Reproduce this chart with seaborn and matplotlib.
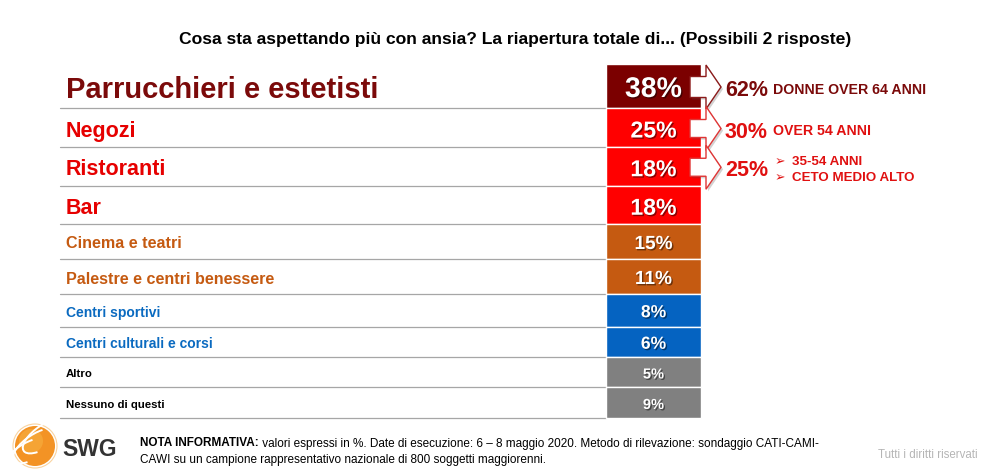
import numpy as np
import matplotlib
matplotlib.use("Agg")
import matplotlib.pyplot as plt
import matplotlib.patheffects as pe
from matplotlib.patches import Polygon, Circle, Arc
import seaborn as sns

# ---------------------------------------------------------
# DATA
# ---------------------------------------------------------
categories = [
    "Parrucchieri e estetisti", "Negozi", "Ristoranti", "Bar",
    "Cinema e teatri", "Palestre e centri benessere",
    "Centri sportivi", "Centri culturali e corsi",
    "Altro", "Nessuno di questi",
]
values = [38, 25, 18, 18, 15, 11, 8, 6, 5, 9]
tiers = ["top", "high", "high", "high", "mid", "mid", "low", "low", "other", "other"]

highlight_values = ["62%", "30%", "25%"]
highlight_labels = [["DONNE OVER 64 ANNI"], ["OVER 54 ANNI"], ["35-54 ANNI", "CETO MEDIO ALTO"]]

title = "Cosa sta aspettando più con ansia? La riapertura totale di... (Possibili 2 risposte)"
note_bold = "NOTA INFORMATIVA:"
note_line1 = " valori espressi in %. Date di esecuzione: 6 – 8 maggio 2020. Metodo di rilevazione: sondaggio CATI-CAMI-"
note_line2 = "CAWI su un campione rappresentativo nazionale di 800 soggetti maggiorenni."

# ---------------------------------------------------------
# STYLE / LAYOUT
# ---------------------------------------------------------
cell_colors = {"top": "#7B0000", "high": "#FF0000", "mid": "#C55A11",
               "low": "#0563C1", "other": "#808080"}
label_colors = {"top": "#7B0A0A", "high": "#E60000", "mid": "#C55A11",
                "low": "#0A6AC0", "other": "#000000"}
label_sizes = {"top": 21, "high": 15.5, "mid": 11.6, "low": 10, "other": 8.2}
value_sizes = {"top": 20.5, "high": 16.6, "mid": 13.7, "low": 12.6, "other": 10.5}

row_heights = np.array([44, 39, 38.5, 38.5, 35, 35, 32.5, 30.5, 30, 31])
top_y = 64
row_edges = top_y + np.concatenate([[0], np.cumsum(row_heights)])
row_centers = (row_edges[:-1] + row_edges[1:]) / 2
cell_left, cell_right = 606, 701
label_x = 66

sns.set_theme(style="white")
plt.rcParams["font.family"] = ["Liberation Sans", "DejaVu Sans"]

fig = plt.figure(figsize=(9.81, 4.75), dpi=100)
ax = fig.add_axes([0, 0, 1, 1])
ax.set_xlim(0, 981)
ax.set_ylim(475, 0)
ax.axis("off")

# title
ax.text(515, 38, title, ha="center", va="center_baseline", fontsize=12.6,
        fontweight="bold", color="#000000")

# cells
ax.barh(row_centers, cell_right - cell_left, left=cell_left, height=row_heights,
        color=[cell_colors[t] for t in tiers], edgecolor="white", linewidth=1, zorder=2)

# separator lines
for yb in row_edges[1:]:
    ax.plot([60, cell_left], [yb, yb], color="#A6A6A6", lw=0.9, zorder=1)

shadow = [pe.withSimplePatchShadow(offset=(1, -1), shadow_rgbFace="black", alpha=0.45)]
for cat, val, tier, cy in zip(categories, values, tiers, row_centers):
    ax.text(label_x, cy + 1, cat, ha="left", va="center_baseline", fontsize=label_sizes[tier],
            fontweight="bold", color=label_colors[tier])
    ax.text((cell_left + cell_right) / 2, cy + 1, f"{val}%", ha="center", va="center_baseline",
            fontsize=value_sizes[tier], fontweight="bold", color="white",
            path_effects=shadow, zorder=4)

# arrows with highlights
arrow_edges = ["#8B1A1A", "#E03535", "#E03535"]
text_colors = ["#7B0A0A", "#E01010", "#E01010"]
body_half = [10.5, 9, 9]
for i, (hv, hl) in enumerate(zip(highlight_values, highlight_labels)):
    cy = row_centers[i] + 1
    bh, hh = body_half[i], 22
    pts = [(690, cy - bh), (706, cy - bh), (706, cy - hh), (721, cy),
           (706, cy + hh), (706, cy + bh), (690, cy + bh)]
    ax.add_patch(Polygon(pts, closed=True, facecolor="white", edgecolor=arrow_edges[i],
                         lw=1.0, zorder=3,
                         path_effects=[pe.SimplePatchShadow(offset=(1.5, -1.5), alpha=0.25), pe.Normal()]))
    ax.text(725, cy + 1, hv, ha="left", va="center_baseline", fontsize=15.5, fontweight="bold",
            color=text_colors[i])
    if len(hl) == 1:
        ax.text(773, cy + 1, hl[0], ha="left", va="center_baseline", fontsize=10.2,
                fontweight="bold", color=text_colors[i])
    else:
        for j, line in enumerate(hl):
            yy = cy - 7 + j * 16
            ax.text(775, yy, "➢", ha="left", va="center_baseline", fontsize=9,
                    color=text_colors[i], family=["DejaVu Sans"])
            ax.text(792, yy, line, ha="left", va="center_baseline", fontsize=9.6,
                    fontweight="bold", color=text_colors[i])

# footer: logo
ax.add_patch(Circle((35, 446), 20, facecolor="#F39325", edgecolor="none", zorder=2))
ax.add_patch(Circle((31, 441), 12, facecolor="#F7B040", edgecolor="none", zorder=2, alpha=0.6))
for k, off in enumerate([-10, 0, 10]):
    ax.add_patch(Arc((35 + off, 446 - off), 52, 22, angle=-35, theta1=150, theta2=330,
                     color="white", lw=1.4, zorder=3))
ax.add_patch(Circle((35, 446), 22, facecolor="none", edgecolor="#F9D3A0", lw=0.8, zorder=1))
ax.text(62, 447, "SWG", ha="left", va="center_baseline", fontsize=16.5, fontweight="bold",
        color="#333333")

# footer: note
fs_note = 8.5
t = ax.text(140, 442, note_bold, ha="left", va="center_baseline", fontsize=fs_note,
            fontweight="bold", color="#000000")
fig.canvas.draw()
bb = t.get_window_extent()
x_end = ax.transData.inverted().transform((bb.x1, bb.y0))[0]
ax.text(x_end, 442, note_line1, ha="left", va="center_baseline", fontsize=fs_note, color="#000000")
ax.text(140, 458, note_line2, ha="left", va="center_baseline", fontsize=fs_note, color="#000000")
ax.text(978, 454, "Tutti i diritti riservati", ha="right", va="center_baseline", fontsize=8.3,
        color="#B5B5B5")

fig.savefig("out.png", dpi=100)
